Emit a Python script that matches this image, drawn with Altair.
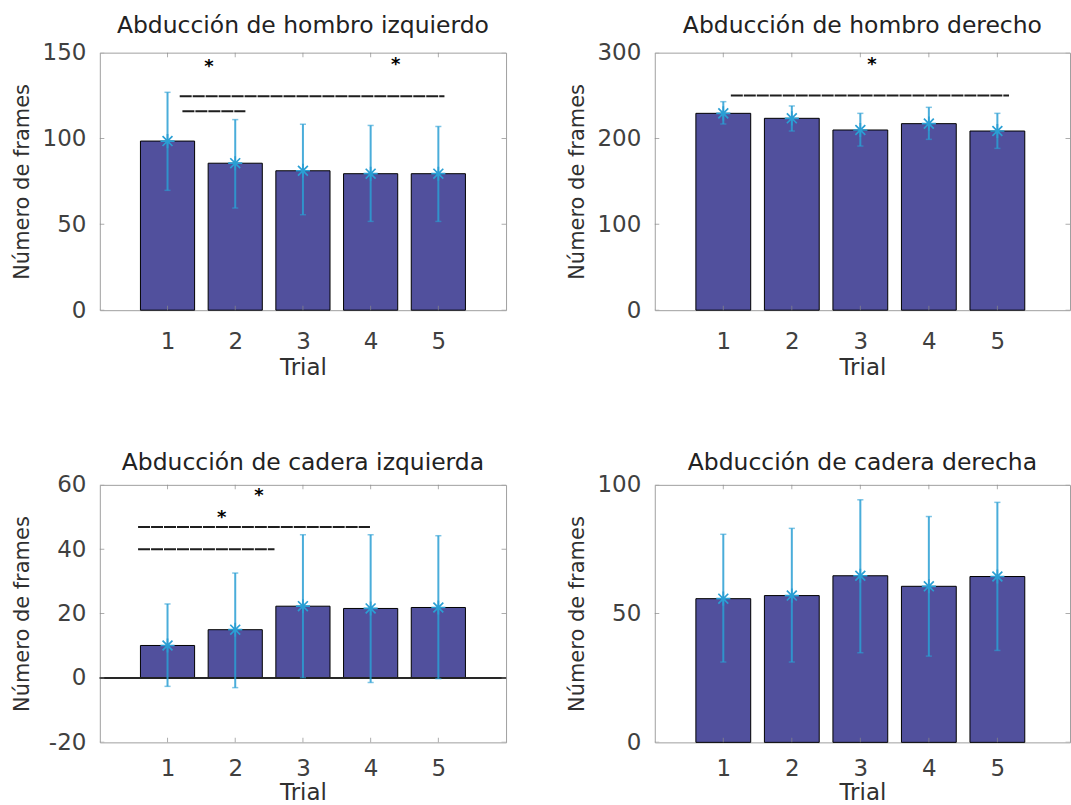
import altair as alt
import pandas as pd

trials = [1, 2, 3, 4, 5]

titles = [
    "Abducción de hombro izquierdo",
    "Abducción de hombro derecho",
    "Abducción de cadera izquierda",
    "Abducción de cadera derecha",
]

# Hombro izquierdo
hi_mean = [98.5, 85.6, 81.2, 79.5, 79.5]
hi_low = [69.8, 59.5, 55.6, 51.7, 51.7]
hi_high = [126.9, 111.0, 108.3, 107.6, 107.0]
hi_sig_start = [1.18, 1.22]
hi_sig_end = [5.09, 2.15]
hi_sig_y = [124.6, 115.9]
hi_star_x = [1.61, 4.37]
hi_star_y = [144.4, 145.8]

# Hombro derecho
hd_mean = [229.3, 223.5, 209.9, 217.3, 208.7]
hd_low = [216.9, 208.7, 191.2, 199.0, 188.5]
hd_high = [242.9, 237.9, 229.3, 236.3, 229.3]
hd_sig_start = [1.11]
hd_sig_end = [5.17]
hd_sig_y = [250.0]
hd_star_x = [3.17]
hd_star_y = [292.0]

# Cadera izquierda
ci_mean = [10.1, 15.0, 22.3, 21.6, 21.9]
ci_low = [-2.6, -3.0, 0.1, -1.4, -0.2]
ci_high = [23.0, 32.6, 44.5, 44.5, 44.2]
ci_sig_start = [0.565, 0.565]
ci_sig_end = [3.99, 2.58]
ci_sig_y = [46.9, 40.0]
ci_star_x = [1.80, 2.35]
ci_star_y = [51.4, 58.2]

# Cadera derecha
cd_mean = [55.8, 57.0, 64.7, 60.6, 64.4]
cd_low = [31.2, 31.2, 34.8, 33.5, 35.7]
cd_high = [80.8, 83.1, 94.2, 87.7, 93.2]

BAR = "#51509d"
CYAN = "#2a9fd4"
FONT = "DejaVu Sans"
STAR = "M0,-1L0,1M-1,0L1,0M-0.7,-0.7L0.7,0.7M-0.7,0.7L0.7,-0.7"


def panel(title, mean, low, high, ydom, yticks, width, xmax,
          sig_start, sig_end, sig_y, star_x, star_y,
          title_offset, y_title_pad, x_label_pad, x_title_pad, zero_line=False):
    xs = alt.Scale(domain=[0, xmax], nice=False, zero=False)
    ys = alt.Scale(domain=ydom, nice=False, zero=False)
    xaxis = alt.Axis(values=trials, title="Trial", labelPadding=x_label_pad,
                     titlePadding=x_title_pad, titleFontSize=23,
                     labelAngle=0, format="d")
    yaxis = alt.Axis(values=yticks, title="Número de frames", labelPadding=14,
                     titlePadding=y_title_pad, titleFontSize=21,
                     labelExpr="datum.value < 0 ? '-' + abs(datum.value) : datum.label")

    def X(f):
        return alt.X(f, scale=xs, axis=xaxis)

    def Y(f):
        return alt.Y(f, scale=ys, axis=yaxis)

    df = pd.DataFrame({"trial": trials, "mean": mean, "low": low, "high": high})
    df["left"] = df["trial"] - 0.4
    df["right"] = df["trial"] + 0.4
    df["capl"] = df["trial"] - 0.045
    df["capr"] = df["trial"] + 0.045

    base = alt.Chart(df)
    bars = base.mark_bar(color=BAR, stroke="black", strokeWidth=1).encode(
        x=X("left:Q"), x2="right:Q", y=Y("mean:Q"), y2=alt.datum(0),
    )
    err = base.mark_rule(color=CYAN, strokeWidth=2, opacity=0.85).encode(
        x=X("trial:Q"), y=Y("low:Q"), y2="high:Q",
    )
    cap_hi = base.mark_rule(color=CYAN, strokeWidth=1.5, opacity=0.6).encode(
        x=X("capl:Q"), x2="capr:Q", y=Y("high:Q"),
    )
    cap_lo = base.mark_rule(color=CYAN, strokeWidth=1.5, opacity=0.6).encode(
        x=X("capl:Q"), x2="capr:Q", y=Y("low:Q"),
    )
    stars = base.mark_point(shape=STAR, size=200, filled=False, color=CYAN,
                            strokeWidth=1.7, opacity=1).encode(
        x=X("trial:Q"), y=Y("mean:Q"),
    )
    tick_x = pd.DataFrame({"x": trials + trials,
                           "y": [ydom[0]] * 5 + [ydom[1]] * 5})
    tick_y = pd.DataFrame({"x": [0] * len(yticks) + [xmax] * len(yticks),
                           "y": yticks + yticks})
    tx = alt.Chart(tick_x).mark_tick(orient="vertical", size=9, thickness=1,
                                     color="#8a8a8a", clip=True).encode(
        x=X("x:Q"), y=Y("y:Q"))
    ty = alt.Chart(tick_y).mark_tick(orient="horizontal", size=9, thickness=1,
                                     color="#8a8a8a", clip=True).encode(
        x=X("x:Q"), y=Y("y:Q"))

    layers = [bars]
    if zero_line:
        zl = alt.Chart(df).mark_rule(color="#222", strokeWidth=1).encode(
            y=alt.Y(datum=0, scale=ys, axis=yaxis))
        layers.append(zl)
    layers += [err, cap_hi, cap_lo, stars, tx, ty]
    if sig_start:
        sdf = pd.DataFrame({"s": sig_start, "e": sig_end, "y": sig_y})
        sl = alt.Chart(sdf).mark_rule(color="#1e1e1e", strokeWidth=2,
                                      strokeDash=[12, 1]).encode(
            x=X("s:Q"), x2="e:Q", y=Y("y:Q"))
        layers.append(sl)
    if star_x:
        adf = pd.DataFrame({"x": star_x, "y": star_y})
        at = alt.Chart(adf).mark_text(text="*", font=FONT, fontSize=18,
                                      fontWeight="bold", baseline="middle",
                                      dy=5, color="black").encode(
            x=X("x:Q"), y=Y("y:Q"))
        layers.append(at)

    return alt.layer(*layers).properties(
        width=width, height=258,
        title=alt.TitleParams(text=title, offset=title_offset, baseline="alphabetic",
                              fontSize=23.5, font=FONT, fontWeight="normal",
                              color="#222222", anchor="middle", frame="group"),
    )


p1 = panel(titles[0], hi_mean, hi_low, hi_high, [0, 150], [0, 50, 100, 150], 407, 6,
           hi_sig_start, hi_sig_end, hi_sig_y, hi_star_x, hi_star_y,
           title_offset=-14.5, y_title_pad=10, x_label_pad=20, x_title_pad=3)
p2 = panel(titles[1], hd_mean, hd_low, hd_high, [0, 300], [0, 100, 200, 300], 416, 6.06,
           hd_sig_start, hd_sig_end, hd_sig_y, hd_star_x, hd_star_y,
           title_offset=-14.5, y_title_pad=10, x_label_pad=20, x_title_pad=3)
p3 = panel(titles[2], ci_mean, ci_low, ci_high, [-20, 60], [-20, 0, 20, 40, 60], 407, 6,
           ci_sig_start, ci_sig_end, ci_sig_y, ci_star_x, ci_star_y,
           title_offset=-20, y_title_pad=16, x_label_pad=15, x_title_pad=1,
           zero_line=True)
p4 = panel(titles[3], cd_mean, cd_low, cd_high, [0, 100], [0, 50, 100], 416, 6.06,
           [], [], [], [], [],
           title_offset=-20, y_title_pad=10, x_label_pad=15, x_title_pad=1)

row1 = alt.hconcat(p1, p2, spacing=58)
row2 = alt.hconcat(p3, p4, spacing=58)

chart = alt.vconcat(row1, row2, spacing=71).properties(
    padding={"left": 10, "top": 12, "right": 0, "bottom": 0},
    background="white",
).configure_view(
    stroke="#a0a0a0", strokeWidth=1
).configure_axis(
    labelFont=FONT, labelFontSize=23, labelColor="#404040",
    titleFont=FONT, titleFontWeight="normal", titleColor="#303030",
    grid=False, domain=False, ticks=False,
)

chart.save("out.html", embed_options={"renderer": "svg", "actions": False})
